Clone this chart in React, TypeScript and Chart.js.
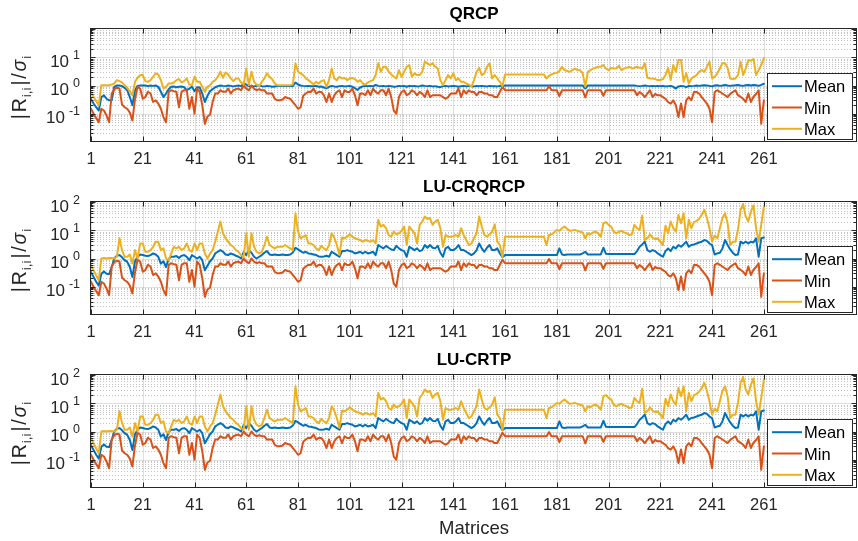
import React, { useEffect, useRef } from 'react';
import { Chart, registerables } from 'chart.js';

Chart.register(...registerables);

// ---------------- data ----------------
const seriesNames = ['Mean', 'Min', 'Max'];
const xTickValues = [1, 21, 41, 61, 81, 101, 121, 141, 161, 181, 201, 221, 241, 261];

// Min |R_ii|/sigma_i (same in the three panels)
const minRatio = [
  0.15, 0.1, 0.07, 0.05, 0.15, 0.13, 0.087, 0.05, 0.52, 0.74,
  0.83, 0.78, 0.21, 0.17, 0.15, 0.11, 0.058, 0.32, 0.9, 0.78,
  0.34, 0.39, 0.6, 0.52, 0.26, 0.3, 0.23, 0.15, 0.076, 0.05,
  0.6, 0.68, 0.63, 0.6, 0.17, 0.6, 0.68, 0.68, 0.15, 0.39,
  0.1, 0.78, 0.6, 0.2, 0.044, 0.08, 0.092, 0.26, 0.52, 0.52,
  0.68, 0.6, 0.6, 0.78, 0.52, 0.68, 0.74, 0.78, 0.68, 1.0,
  0.78, 0.68, 1.0, 0.78, 0.68, 0.74, 0.68, 0.68, 0.52, 0.52,
  0.52, 0.34, 0.3, 0.3, 0.32, 0.39, 0.36, 0.34, 0.26, 0.2,
  0.15, 0.17, 0.43, 0.52, 0.6, 0.59, 0.78, 0.52, 0.59, 0.59,
  0.45, 0.26, 0.52, 0.26, 0.45, 0.59, 0.68, 0.39, 0.68, 0.59,
  0.59, 0.78, 0.45, 0.2, 0.52, 0.52, 0.45, 0.68, 0.45, 0.78,
  0.59, 0.52, 0.68, 0.68, 0.45, 0.78, 0.39, 0.13, 0.1, 0.39,
  0.59, 0.68, 0.45, 0.52, 0.68, 0.59, 0.45, 0.59, 0.52, 0.39,
  0.68, 0.39, 0.45, 0.45, 0.45, 0.45, 0.39, 0.34, 0.39, 0.52,
  0.52, 0.52, 0.78, 0.39, 0.68, 0.52, 0.68, 0.59, 0.59, 0.45,
  0.59, 0.59, 0.52, 0.52, 0.45, 0.45, 0.39, 0.39, 0.6, 0.9,
  0.68, 0.68, 0.68, 0.68, 0.68, 0.68, 0.68, 0.68, 0.68, 0.68,
  0.68, 0.68, 0.68, 0.68, 0.68, 0.68, 0.68, 0.95, 0.68, 0.68,
  0.68, 0.42, 0.68, 0.68, 0.68, 0.68, 0.68, 0.68, 0.68, 0.68,
  0.68, 0.38, 0.68, 0.68, 0.68, 0.68, 0.68, 0.68, 0.43, 0.68,
  0.68, 0.68, 0.68, 0.68, 0.68, 0.68, 0.68, 0.68, 0.68, 0.68,
  0.68, 0.45, 0.59, 0.5, 0.39, 0.52, 0.68, 0.39, 0.5, 0.45,
  0.45, 0.39, 0.34, 0.26, 0.23, 0.3, 0.2, 0.076, 0.23, 0.076,
  0.3, 0.39, 0.3, 0.59, 0.59, 0.52, 0.39, 0.3, 0.23, 0.15,
  0.05, 0.59, 0.68, 0.6, 0.52, 0.45, 0.39, 0.5, 0.59, 0.68,
  0.45, 0.4, 0.34, 0.26, 0.52, 0.26, 0.4, 0.5, 0.68, 0.044, 0.3,
];

// QRCP mean
const qrcpMean = [
  0.33, 0.23, 0.17, 0.13, 0.39, 0.45, 0.34, 0.3, 0.3, 0.9,
  1.0, 1.0, 0.95, 0.83, 0.68, 0.39, 0.2, 0.68, 0.97, 1.0,
  1.0, 1.0, 0.95, 1.0, 0.97, 1.0, 0.9, 0.6, 0.39, 0.52,
  0.74, 0.9, 0.92, 0.87, 0.9, 0.92, 0.87, 0.68, 0.78, 0.9,
  0.63, 0.87, 0.85, 0.52, 0.26, 0.43, 0.63, 0.74, 0.87, 0.95,
  1.0, 0.97, 0.95, 1.0, 0.97, 0.93, 0.97, 1.0, 0.95, 1.18,
  1.08, 0.95, 0.97, 0.93, 0.97, 1.0, 0.95, 0.93, 0.97, 0.95,
  0.9, 0.93, 0.95, 0.97, 0.95, 0.97, 0.95, 0.97, 0.95, 1.28,
  1.08, 1.0, 0.97, 0.95, 0.97, 0.95, 0.95, 0.97, 0.9, 0.93,
  0.85, 0.8, 0.9, 0.97, 0.93, 0.9, 0.95, 0.97, 0.93, 0.95,
  0.97, 0.9, 0.8, 0.7, 0.85, 0.93, 0.97, 0.95, 0.97, 0.93,
  1.05, 0.97, 0.95, 0.97, 0.93, 0.97, 0.95, 0.9, 0.93, 0.97,
  0.95, 0.97, 0.9, 0.97, 0.95, 0.97, 0.93, 0.95, 1.0, 0.97,
  0.95, 0.97, 0.93, 0.95, 0.9, 0.88, 0.95, 0.97, 0.93, 0.95,
  0.97, 0.95, 0.9, 0.95, 0.97, 0.93, 0.97, 0.95, 0.93, 0.97,
  0.95, 0.97, 0.95, 0.93, 0.97, 0.95, 0.95, 0.93, 0.97, 0.95,
  1.0, 1.0, 1.0, 1.0, 1.0, 1.0, 1.0, 1.0, 1.0, 1.0,
  1.0, 1.0, 1.0, 1.0, 1.0, 1.0, 1.0, 1.0, 1.0, 1.0,
  1.0, 1.0, 1.0, 1.0, 1.0, 1.0, 1.0, 1.0, 1.0, 1.0,
  1.0, 0.78, 1.0, 1.0, 1.0, 1.0, 1.0, 1.0, 1.0, 1.0,
  1.0, 1.0, 1.0, 1.0, 1.0, 1.0, 1.0, 1.0, 1.0, 1.0,
  1.0, 0.97, 0.95, 0.97, 1.0, 0.97, 0.95, 0.97, 0.95, 0.97,
  0.95, 0.97, 0.93, 0.95, 0.97, 0.9, 0.78, 0.93, 0.97, 0.95,
  0.88, 0.97, 0.95, 0.97, 1.0, 0.97, 1.0, 1.02, 1.0, 0.97,
  0.93, 1.0, 1.02, 0.97, 1.0, 1.05, 1.0, 0.97, 1.0, 1.02,
  1.05, 1.0, 0.97, 1.02, 1.05, 1.0, 1.05, 1.02, 0.97, 1.05, 1.15,
];

// QRCP max
const qrcpMax = [
  0.6, 0.39, 0.28, 0.2, 1.03, 1.03, 1.03, 1.03, 1.08, 1.18,
  1.55, 1.43, 1.28, 1.03, 0.83, 0.63, 0.45, 1.35, 1.88, 2.34,
  2.34, 1.43, 1.35, 1.55, 2.04, 2.7, 2.47, 1.55, 0.78, 0.9,
  1.18, 1.18, 1.28, 1.55, 1.68, 1.28, 1.43, 1.78, 1.08, 1.03,
  2.04, 1.35, 1.35, 0.9, 0.6, 0.9, 1.03, 1.35, 1.55, 2.04,
  3.07, 1.88, 2.9, 2.47, 1.78, 1.43, 1.78, 1.78, 1.28, 1.08,
  4.0, 1.03, 3.07, 1.35, 1.08, 0.95, 1.35, 1.78, 2.7, 2.04,
  1.68, 1.18, 1.03, 1.03, 1.03, 1.03, 1.03, 1.03, 1.08, 6.1,
  3.07, 2.7, 2.34, 1.78, 1.55, 1.3, 1.1, 1.35, 1.18, 1.43,
  1.55, 0.9, 1.55, 4.0, 1.78, 1.55, 2.04, 1.78, 1.85, 1.55,
  1.78, 1.85, 1.68, 1.35, 1.55, 1.18, 1.08, 1.28, 1.43, 1.55,
  2.34, 6.1, 3.07, 4.6, 4.6, 3.07, 2.47, 2.04, 1.78, 3.5,
  2.04, 3.07, 4.6, 5.3, 2.04, 2.7, 2.34, 2.34, 3.07, 7.0,
  6.1, 5.3, 6.1, 4.6, 4.0, 1.55, 1.03, 1.55, 2.34, 1.78,
  2.7, 1.55, 1.78, 1.35, 1.35, 1.18, 1.08, 0.9, 1.55, 3.07,
  4.2, 2.34, 2.7, 4.6, 6.1, 1.78, 2.34, 1.78, 1.35, 0.95,
  2.47, 2.47, 2.47, 2.47, 2.47, 2.47, 2.47, 2.47, 2.47, 2.47,
  2.47, 2.47, 2.47, 2.47, 2.47, 2.47, 1.78, 2.2, 2.47, 2.7,
  2.8, 3.25, 4.6, 3.5, 3.25, 3.07, 3.5, 4.0, 3.5, 3.5,
  2.7, 0.9, 3.07, 3.5, 4.0, 4.2, 4.6, 4.6, 5.3, 4.0,
  3.5, 4.2, 4.0, 4.0, 5.0, 3.5, 4.0, 4.2, 4.6, 4.0,
  4.2, 4.6, 4.2, 4.0, 6.1, 1.88, 1.78, 1.78, 1.68, 1.55,
  1.55, 1.68, 2.34, 4.2, 1.55, 5.3, 3.07, 8.0, 8.0, 1.35,
  2.7, 1.18, 1.78, 2.04, 2.34, 3.07, 3.5, 3.07, 4.6, 7.0,
  1.78, 2.04, 2.7, 4.0, 6.1, 6.1, 4.2, 1.78, 1.68, 1.78,
  2.34, 7.0, 2.34, 4.0, 8.0, 7.5, 8.7, 2.34, 3.5, 5.3, 9.2,
];

// LU-CRQRCP / LU-CRTP mean
const luMean = [
  0.33, 0.22, 0.15, 0.11, 0.29, 0.35, 0.29, 0.28, 0.5, 1.0,
  1.25, 1.32, 1.1, 0.87, 0.76, 0.5, 0.22, 0.8, 1.15, 1.39,
  1.32, 1.25, 1.22, 1.32, 1.51, 1.39, 1.15, 0.66, 0.8, 0.5,
  0.95, 1.15, 1.15, 1.22, 1.05, 1.25, 1.32, 1.15, 0.87, 1.32,
  1.15, 1.0, 1.15, 0.87, 0.38, 0.55, 0.8, 1.0, 1.51, 1.73,
  1.98, 1.73, 1.39, 1.32, 1.51, 1.39, 1.25, 1.15, 1.0, 1.73,
  1.32, 1.98, 1.6, 1.15, 1.0, 1.15, 1.32, 1.6, 1.83, 1.39,
  1.32, 1.39, 1.32, 1.32, 1.39, 1.32, 1.32, 1.39, 1.64, 2.4,
  2.1, 1.83, 1.6, 1.73, 1.51, 1.47, 1.39, 1.32, 1.18, 1.15,
  1.18, 1.25, 1.15, 1.73, 1.51, 1.32, 1.15, 1.83, 1.83, 1.98,
  1.83, 1.73, 1.51, 1.6, 1.73, 1.51, 1.73, 1.51, 1.6, 1.73,
  1.32, 3.0, 2.6, 2.28, 2.8, 2.4, 2.1, 1.98, 2.8, 2.28,
  1.98, 1.83, 1.15, 2.6, 2.28, 1.98, 2.28, 1.83, 1.98, 3.0,
  2.4, 3.0, 2.4, 2.28, 2.8, 1.6, 1.15, 2.28, 2.6, 1.98,
  1.98, 2.28, 3.0, 1.98, 1.98, 1.73, 1.51, 1.32, 1.51, 1.98,
  3.4, 2.28, 1.73, 2.4, 3.0, 1.98, 1.98, 2.28, 1.51, 1.12,
  1.32, 1.32, 1.32, 1.32, 1.32, 1.32, 1.32, 1.32, 1.32, 1.32,
  1.32, 1.32, 1.32, 1.32, 1.32, 1.32, 1.32, 1.32, 1.32, 1.32,
  1.32, 2.28, 1.39, 1.32, 1.39, 1.39, 1.39, 1.39, 1.39, 1.39,
  1.51, 1.73, 1.39, 1.39, 1.39, 1.39, 1.39, 1.39, 2.4, 1.47,
  1.43, 1.43, 1.43, 1.43, 1.43, 1.43, 1.43, 1.43, 1.43, 1.43,
  1.43, 1.83, 2.6, 3.15, 3.94, 1.98, 1.73, 1.98, 1.83, 1.51,
  1.32, 1.15, 1.83, 2.28, 1.83, 2.6, 2.28, 3.0, 2.6, 3.15,
  3.94, 2.6, 3.0, 3.15, 3.4, 3.7, 3.94, 4.5, 4.2, 3.4,
  3.0, 1.39, 1.51, 1.6, 2.28, 4.5, 3.0, 2.1, 1.6, 1.32,
  1.39, 3.94, 3.4, 3.94, 3.4, 3.94, 3.7, 5.2, 1.15, 5.2, 5.5,
];

// LU-CRQRCP / LU-CRTP max
const luMax = [
  0.58, 0.38, 0.25, 0.17, 1.0, 1.05, 1.0, 1.05, 1.05, 1.0,
  1.15, 5.2, 1.98, 1.15, 1.15, 1.39, 0.66, 1.98, 1.0, 3.4,
  3.4, 1.73, 1.73, 1.98, 2.6, 3.94, 3.94, 1.98, 2.28, 1.0,
  0.87, 1.51, 2.6, 2.28, 2.6, 1.98, 2.28, 3.4, 1.98, 1.73,
  3.4, 1.98, 3.4, 3.4, 1.51, 1.0, 1.51, 1.98, 3.94, 8.9,
  20.4, 7.8, 5.2, 3.94, 3.0, 2.6, 1.98, 1.73, 1.32, 1.15,
  7.8, 1.15, 7.8, 2.6, 1.73, 1.51, 1.73, 3.0, 5.9, 3.0,
  2.6, 2.28, 2.6, 2.6, 2.6, 3.0, 2.6, 2.28, 1.98, 40,
  8.9, 5.2, 5.9, 6.8, 3.4, 3.4, 3.0, 2.28, 1.98, 2.8,
  2.28, 1.98, 3.0, 7.8, 5.5, 3.0, 1.32, 5.5, 5.2, 5.9,
  7.2, 5.9, 5.2, 4.8, 4.5, 3.94, 4.5, 4.2, 3.94, 4.5,
  3.4, 23.4, 13.5, 15.5, 11.8, 6.8, 5.9, 8.9, 7.2, 7.8,
  9.5, 13.5, 3.0, 13.5, 10.3, 7.8, 3.4, 15.5, 20.4, 30.8,
  25, 27, 15.5, 20.4, 23.4, 11.8, 2.6, 6.8, 5.9, 5.9,
  6.2, 6.8, 5.9, 11.8, 6.8, 4.5, 3.0, 3.4, 5.2, 7.8,
  30.8, 13.5, 6.8, 5.9, 7.2, 8.9, 16.3, 3.94, 3.0, 1.1,
  5.9, 5.9, 5.9, 5.9, 5.9, 5.9, 5.9, 5.9, 5.9, 5.9,
  5.9, 5.9, 5.9, 5.9, 5.9, 5.9, 3.0, 6.8, 7.2, 8.4,
  10.3, 9.5, 11.8, 13.5, 11.2, 9.5, 9.9, 10.3, 9.5, 8.9,
  8.4, 5.2, 7.8, 7.2, 8.4, 8.9, 7.8, 5.9, 17.7, 19.5,
  15.5, 13.5, 8.9, 7.8, 8.9, 9.5, 8.4, 7.8, 6.8, 7.2,
  15.5, 11.8, 10.3, 33, 4.5, 5.2, 7.2, 5.5, 4.8, 5.2,
  3.94, 3.0, 14.5, 7.8, 20.4, 11.8, 8.9, 35, 17.7, 40,
  5.2, 23.4, 11.8, 19.5, 21.5, 25.6, 35, 53, 27, 11.8,
  3.94, 6.5, 5.2, 11.8, 27, 40, 17.7, 3.0, 3.94, 3.94,
  10.3, 53, 85, 30.8, 20.4, 46, 76, 11.8, 3.94, 15.5, 70,
];

// ---------------- styling / layout ----------------
const FONT = '"Liberation Sans", Arial, Helvetica, sans-serif';
const AXIS_COLOR = '#262626';
const COLORS = ['#0072BD', '#D95319', '#EDB120'];
const W = 858;
const H = 541;
const PLOT_LEFT = 91;
const PLOT_RIGHT = 857;
const X_MAX = 297;

const panels = [
  { title: 'QRCP', top: 29, bottom: 142, mean: qrcpMean, min: minRatio, max: qrcpMax, yExps: [-1, 0, 1], xlabel: false },
  { title: 'LU-CRQRCP', top: 202, bottom: 315, mean: luMean, min: minRatio, max: luMax, yExps: [-1, 0, 1, 2], xlabel: false },
  { title: 'LU-CRTP', top: 375, bottom: 488, mean: luMean, min: minRatio, max: luMax, yExps: [-1, 0, 1, 2], xlabel: true },
];

const toPoints = (arr: number[]) => arr.map((v, i) => ({ x: i + 1, y: v }));

function hLine(ctx: CanvasRenderingContext2D, x1: number, x2: number, y: number) {
  ctx.beginPath();
  ctx.moveTo(x1, y);
  ctx.lineTo(x2, y);
  ctx.stroke();
}
function vLine(ctx: CanvasRenderingContext2D, x: number, y1: number, y2: number) {
  ctx.beginPath();
  ctx.moveTo(x, y1);
  ctx.lineTo(x, y2);
  ctx.stroke();
}

const decorPlugin = {
  id: 'matlabDecor',
  beforeDatasetsDraw(chart: any, _args: any, opts: any) {
    const { ctx, chartArea: a } = chart;
    const xs = chart.scales.x;
    const ys = chart.scales.y;
    ctx.save();
    ctx.fillStyle = '#ffffff';
    ctx.fillRect(a.left, a.top, a.right - a.left, a.bottom - a.top);
    ctx.lineWidth = 1;
    // minor grid (dotted)
    ctx.strokeStyle = 'rgba(38,38,38,0.28)';
    ctx.setLineDash([1, 2]);
    for (let e = -2; e < 2; e++) {
      for (let m = 2; m <= 9; m++) {
        const y = Math.round(ys.getPixelForValue(m * Math.pow(10, e))) + 0.5;
        hLine(ctx, a.left, a.right, y);
      }
    }
    ctx.setLineDash([]);
    // major grid
    ctx.strokeStyle = 'rgba(38,38,38,0.15)';
    for (let e = -1; e <= 1; e++) {
      const y = Math.round(ys.getPixelForValue(Math.pow(10, e))) + 0.5;
      hLine(ctx, a.left, a.right, y);
    }
    for (const v of xTickValues) {
      const x = Math.round(xs.getPixelForValue(v)) + 0.5;
      vLine(ctx, x, a.top, a.bottom);
    }
    ctx.restore();
  },
  afterDatasetsDraw(chart: any, _args: any, opts: any) {
    const p = opts.panel;
    const { ctx, chartArea: a } = chart;
    const xs = chart.scales.x;
    const ys = chart.scales.y;
    ctx.save();
    // box
    ctx.strokeStyle = AXIS_COLOR;
    ctx.lineWidth = 1;
    const L = a.left - 0.5, R = a.right - 0.5, T = a.top - 0.5, B = a.bottom - 0.5;
    ctx.strokeRect(L, T, R - L, B - T);
    // x ticks inward
    for (const v of xTickValues) {
      const x = Math.round(xs.getPixelForValue(v)) + 0.5;
      vLine(ctx, x, B, B - 5);
      vLine(ctx, x, T, T + 5);
    }
    // y ticks inward (major + minor)
    for (let e = -2; e <= 2; e++) {
      for (let m = 1; m <= 9; m++) {
        const v = m * Math.pow(10, e);
        if (v > 100.0001) break;
        const y = Math.round(ys.getPixelForValue(v)) + 0.5;
        if (y < T - 0.1 || y > B + 0.1) continue;
        const len = m === 1 ? 5 : 3;
        hLine(ctx, L, L + len, y);
        hLine(ctx, R, R - len, y);
      }
    }
    // x tick labels
    ctx.fillStyle = AXIS_COLOR;
    ctx.font = `16.5px ${FONT}`;
    ctx.textAlign = 'center';
    ctx.textBaseline = 'alphabetic';
    for (const v of xTickValues) {
      const x = xs.getPixelForValue(v);
      ctx.fillText(String(v), x, a.bottom + 22);
    }
    // y tick labels 10^e
    ctx.textAlign = 'left';
    for (const e of p.yExps) {
      const y = ys.getPixelForValue(Math.pow(10, e));
      const es = e < 0 ? '-' + String(-e) : String(e);
      ctx.font = `12.5px ${FONT}`;
      const ew = ctx.measureText(es).width;
      const xr = 80;
      ctx.fillText(es, xr - ew, y + 1.5);
      ctx.font = `17px ${FONT}`;
      const bw = ctx.measureText('10').width;
      ctx.fillText('10', xr - ew - 4 - bw, y + 9.5);
    }
    // y axis title |R_{i,i}|/sigma_i
    const parts = [
      { t: '|', f: `19.5px ${FONT}`, dy: 0, gap: 2 },
      { t: 'R', f: `19.5px ${FONT}`, dy: 0, gap: 1 },
      { t: 'i,i', f: `13.5px ${FONT}`, dy: 5, gap: 2 },
      { t: '|', f: `19.5px ${FONT}`, dy: 0, gap: 1.5 },
      { t: '/', f: `19.5px ${FONT}`, dy: 0, gap: 2 },
      { t: '\u03c3', f: `italic 19.5px ${FONT}`, dy: 0, gap: 1 },
      { t: 'i', f: `13.5px ${FONT}`, dy: 5, gap: 0 },
    ];
    let total = 0;
    const widths = parts.map((pt) => {
      ctx.font = pt.f;
      const w = ctx.measureText(pt.t).width + pt.gap;
      total += w;
      return w;
    });
    ctx.save();
    ctx.fillStyle = AXIS_COLOR;
    ctx.translate(26, (a.top + a.bottom) / 2 + 2);
    ctx.rotate(-Math.PI / 2);
    let cx = -total / 2;
    parts.forEach((pt, i) => {
      ctx.font = pt.f;
      ctx.fillText(pt.t, cx, pt.dy);
      cx += widths[i];
    });
    ctx.restore();
    // title
    ctx.fillStyle = '#000000';
    ctx.font = `bold 17px ${FONT}`;
    ctx.textAlign = 'center';
    ctx.fillText(p.title, (a.left + a.right) / 2, a.top - 10);
    // x label
    if (p.xlabel) {
      ctx.fillStyle = AXIS_COLOR;
      ctx.font = `18.5px ${FONT}`;
      ctx.fillText('Matrices', (a.left + a.right) / 2, a.bottom + 46);
    }
    // legend (south-east, inside)
    const bx = 767.5, bw = 85, bh = 66;
    const by = Math.round(a.bottom) - 2.5 - bh;
    ctx.fillStyle = '#ffffff';
    ctx.fillRect(bx, by, bw, bh);
    ctx.strokeStyle = AXIS_COLOR;
    ctx.lineWidth = 1;
    ctx.strokeRect(bx, by, bw, bh);
    const rows = [a.bottom - 55.8, a.bottom - 34.5, a.bottom - 13.2];
    ctx.font = `16.5px ${FONT}`;
    ctx.textAlign = 'left';
    seriesNames.forEach((name, i) => {
      ctx.strokeStyle = COLORS[i];
      ctx.lineWidth = 2;
      hLine(ctx, 772, 802, rows[i]);
      ctx.fillStyle = '#000000';
      ctx.fillText(name, 804, rows[i] + 6);
    });
    ctx.restore();
  },
};

function Panel({ cfg }: { cfg: any }) {
  const ref = useRef<HTMLCanvasElement | null>(null);
  useEffect(() => {
    if (!ref.current) return;
    const mk = (i: number, arr: number[], order: number) => ({
      label: seriesNames[i],
      data: toPoints(arr),
      borderColor: COLORS[i],
      backgroundColor: COLORS[i],
      borderWidth: 2,
      pointRadius: 0,
      tension: 0,
      borderJoinStyle: 'round',
      borderCapStyle: 'round',
      fill: false,
      order,
    });
    const chart = new Chart(ref.current, {
      type: 'line',
      data: {
        datasets: [mk(0, cfg.mean, 3), mk(1, cfg.min, 2), mk(2, cfg.max, 1)] as any,
      },
      options: {
        animation: false,
        responsive: false,
        maintainAspectRatio: false,
        devicePixelRatio: 1,
        events: [],
        layout: {
          padding: { left: PLOT_LEFT, right: W - PLOT_RIGHT, top: cfg.top, bottom: H - cfg.bottom },
        },
        scales: {
          x: { type: 'linear', min: 1, max: X_MAX, display: false },
          y: { type: 'logarithmic', min: 0.01, max: 100, display: false },
        },
        plugins: {
          legend: { display: false },
          tooltip: { enabled: false },
          title: { display: false },
          matlabDecor: { panel: cfg },
        } as any,
      },
      plugins: [decorPlugin as any],
    });
    return () => chart.destroy();
  }, []);
  return (
    <canvas
      ref={ref}
      width={W}
      height={H}
      style={{ position: 'absolute', left: 0, top: 0, width: W, height: H, pointerEvents: 'none' }}
    />
  );
}

export default function App() {
  return (
    <div style={{ position: 'absolute', left: 0, top: 0, width: W, height: H, background: '#ffffff' }}>
      {panels.map((p) => (
        <Panel key={p.title} cfg={p} />
      ))}
    </div>
  );
}
